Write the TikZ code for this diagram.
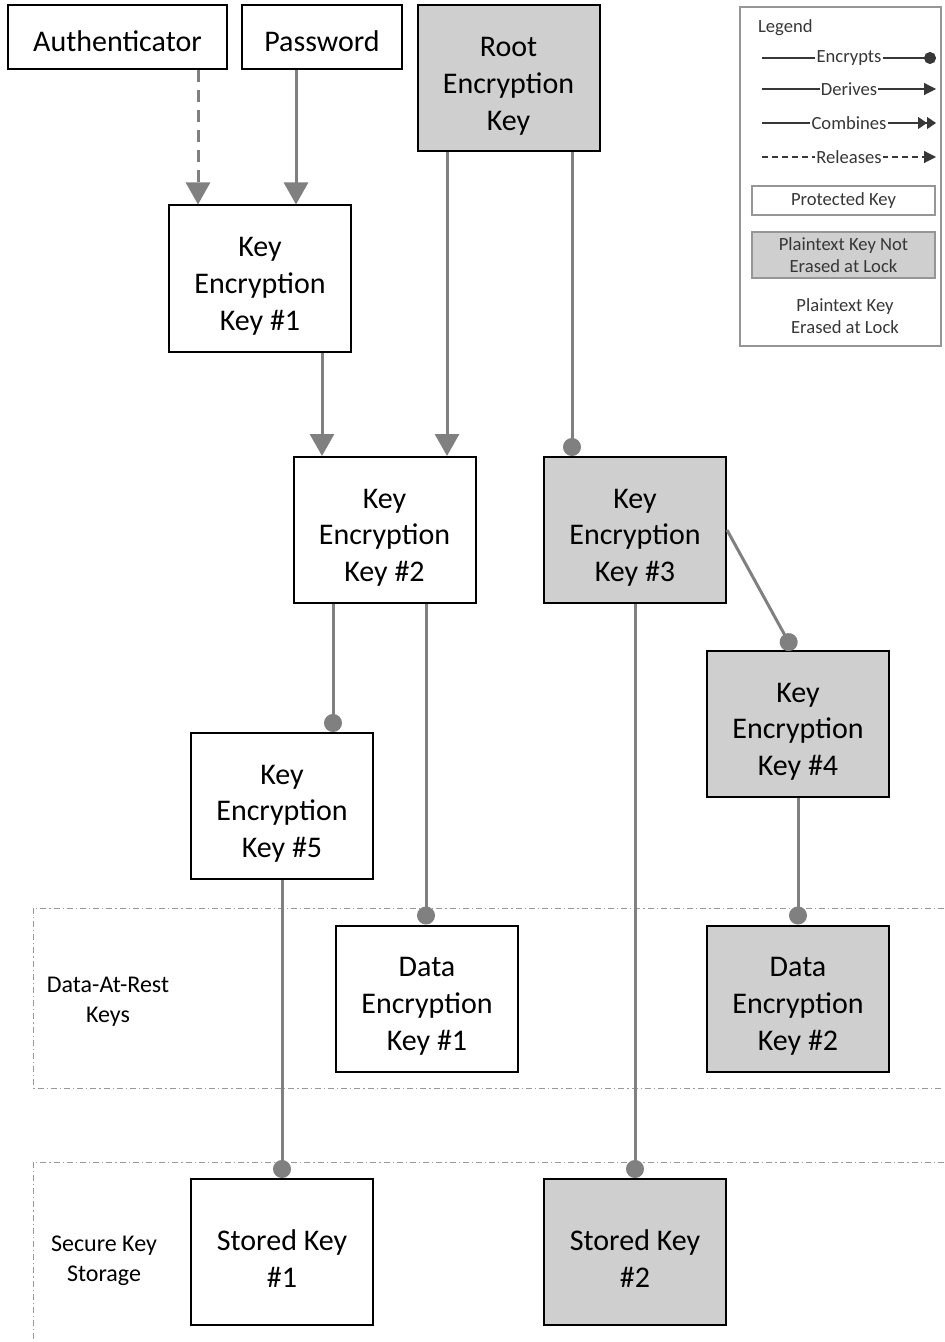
\documentclass[tikz,border=0pt]{standalone}
\usepackage{fontspec}
\setmainfont{Carlito}
\usetikzlibrary{arrows.meta}
\definecolor{keygray}{RGB}{207,207,207}
\definecolor{linkgray}{RGB}{128,128,128}
\definecolor{framegray}{RGB}{150,150,150}
\definecolor{legendink}{RGB}{55,55,55}

\begin{document}
\begin{tikzpicture}[x=0.5pt,y=-0.5pt,font=\fontsize{15}{18.3}\selectfont,
  keybox/.style={draw,line width=1pt,minimum width=91pt,minimum height=73pt,inner sep=0pt,align=center,
    text height=54pt},
  plainkey/.style={keybox,fill=keygray},
  storebox/.style={text height=35pt},
  inputbox/.style={draw,line width=1pt,minimum height=32pt,inner sep=0pt,
    execute at begin node={\rule{0pt}{15pt}}},
  link/.style={draw=linkgray,line width=1.5pt},
  derive/.style={link,-{Triangle[width=12pt,length=11pt]}},
  encrypt/.style={link,-{Circle[length=9pt]}},
  release/.style={derive,dash pattern=on 6pt off 4pt},
  region/.style={draw=gray!80,line width=0.4pt,dash pattern=on 3pt off 1.5pt on 0.6pt off 1.5pt},
  regionlbl/.style={align=center,font=\fontsize{12}{15}\selectfont},
  legendtxt/.style={text=legendink,align=center,font=\fontsize{9.3}{11}\selectfont},
  legendlbl/.style={legendtxt,fill=white,inner sep=0.6pt},
  legendline/.style={draw=legendink,line width=0.6pt},
  legbox/.style={legendtxt,draw=framegray,line width=0.7pt,minimum width=91.5pt,inner sep=0pt}]

\useasboundingbox (0,0) rectangle (944,1342);

% Regions
\draw[region] (944,908) -| (33,1088) -- (944,1088);
\draw[region] (944,1162) -| (33,1342);
\node[regionlbl] (restlbl) at (108,1002) {Data-At-Rest\\Keys};
\node[regionlbl] (storelbl) at (104,1261) {Secure Key\\Storage};

% Inputs
\node[inputbox,minimum width=109.5pt] (auth) at (117.5,37) {Authenticator};
\node[inputbox,minimum width=80pt] (pass) at (322,37) {Password};
\node[plainkey] (root) at (508.5,78.5) {Root\\Encryption\\Key};

% Key encryption keys
\node[keybox] (kek1) at (260,278.5) {Key\\Encryption\\Key \#1};
\node[keybox] (kek2) at (384.5,530) {Key\\Encryption\\Key \#2};
\node[plainkey] (kek3) at (635,530) {Key\\Encryption\\Key \#3};
\node[plainkey] (kek4) at (798,724) {Key\\Encryption\\Key \#4};
\node[keybox] (kek5) at (282,806) {Key\\Encryption\\Key \#5};

% Data keys and stored keys
\node[keybox] (dek1) at (427,998.5) {Data\\Encryption\\Key \#1};
\node[plainkey] (dek2) at (798,998.5) {Data\\Encryption\\Key \#2};
\node[keybox,storebox] (sk1) at (282,1252) {Stored Key\\\#1};
\node[plainkey,storebox] (sk2) at (635,1252) {Stored Key\\\#2};

% Connectors
\draw[release] ([xshift=40.25pt]auth.south) -- ([xshift=-31pt]kek1.north);
\draw[derive] ([xshift=-13pt]pass.south) -- ([xshift=18pt]kek1.north);
\draw[derive] ([xshift=31pt]kek1.south) -- ([xshift=-31.25pt]kek2.north);
\draw[derive] ([xshift=-30.75pt]root.south) -- ([xshift=31.25pt]kek2.north);
\draw[encrypt] ([xshift=31.75pt]root.south) -- ([xshift=-31.5pt]kek3.north);
\draw[encrypt] ([xshift=-25.75pt]kek2.south) -- ([xshift=25.5pt]kek5.north);
\draw[encrypt] ([xshift=20.75pt]kek2.south) -- ([xshift=-0.5pt]dek1.north);
\draw[encrypt] (kek3.east) -- ([xshift=-2.5pt]kek4.north);
\draw[encrypt] (kek3.south) -- (sk2.north);
\draw[encrypt] (kek4.south) -- (dek2.north);
\draw[encrypt] (kek5.south) -- (sk1.north);

% Legend
\node[draw=framegray,line width=0.7pt,minimum width=100.5pt,minimum height=169.5pt,inner sep=0pt] (legend) at (840.5,176.5) {};
\node[legendtxt,anchor=west] (legtitle) at (751,28) {Legend};
\coordinate (enca) at (762,58);  \coordinate (encb) at (936,58);
\coordinate (dera) at (762,89);  \coordinate (derb) at (936,89);
\coordinate (coma) at (762,123); \coordinate (comb) at (936,123);
\coordinate (rela) at (762,157); \coordinate (relb) at (936,157);
\draw[legendline,-{Circle[length=6pt]}] (enca) -- node[legendlbl] {Encrypts} (encb);
\draw[legendline,-{Triangle[width=6pt,length=6pt]}] (dera) -- node[legendlbl] {Derives} (derb);
\draw[legendline,-{Triangle[width=6pt,length=4.5pt]Triangle[width=6pt,length=4.5pt]}] (coma) -- node[legendlbl] {Combines} (comb);
\draw[legendline,dash pattern=on 3pt off 2pt,-{Triangle[width=6pt,length=6pt]}] (rela) -- node[legendlbl] {Releases} (relb);
\node[legbox,minimum height=14.5pt] (protkey) at (843.5,200.5) {Protected Key};
\node[legbox,minimum height=23pt,fill=keygray] (keepkey) at (843.5,255) {Plaintext Key Not\\Erased at Lock};
\node[legendtxt] (erasekey) at (845,316) {Plaintext Key\\Erased at Lock};

\end{tikzpicture}
\end{document}
